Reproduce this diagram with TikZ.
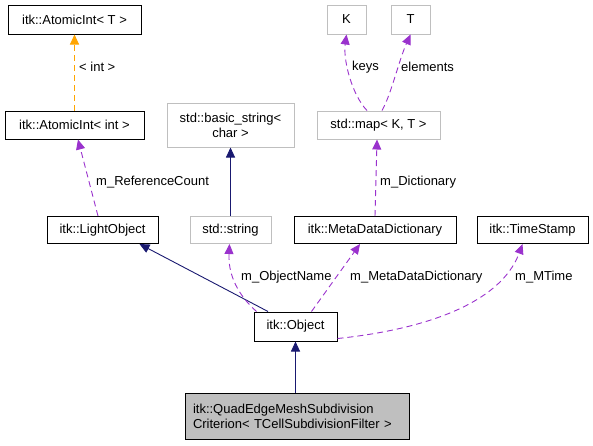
\documentclass[tikz,border=0pt]{standalone}
\usepackage{fontspec}
\setmainfont{Liberation Sans}
\usetikzlibrary{arrows.meta}
\definecolor{navy}{HTML}{191970}
\definecolor{dpurple}{HTML}{9A32CD}
\definecolor{dorange}{HTML}{FFA500}
\definecolor{boxgray}{HTML}{BFBFBF}
\tikzset{
  box/.style={draw=black, line width=1pt, fill=white, inner sep=0pt, minimum height=27pt, font=\fontsize{13}{15}\selectfont},
  gbox/.style={box, draw=boxgray},
  inh/.style={draw=navy, line width=0.9pt, -{Triangle[length=10pt,width=9pt]}},
  use/.style={draw=dpurple, line width=0.9pt, dash pattern=on 6pt off 4pt, -{Triangle[length=10pt,width=9pt]}},
  tmpl/.style={draw=dorange, line width=0.9pt, dash pattern=on 6pt off 4pt, -{Triangle[length=10pt,width=9pt]}},
  lbl/.style={anchor=west, inner sep=0pt, font=\fontsize{13}{15}\selectfont}
}
\begin{document}
\begin{tikzpicture}[x=1pt,y=-1pt]
\useasboundingbox (0,0) rectangle (593,445);
% nodes
\node[box, minimum width=133pt, minimum height=29pt] (atiT) at (74.5,19.5) {itk::AtomicInt< T >};
\node[box, minimum width=139pt, minimum height=28pt] (atiint) at (74.5,125) {itk::AtomicInt< int >};
\node[gbox, minimum width=127pt, minimum height=44pt, align=center] (bstr) at (230.5,125) {std::basic\_string<\\char >};
\node[box, minimum width=111pt] (light) at (102.5,230) {itk::LightObject};
\node[gbox, minimum width=81pt] (str) at (230.5,230) {std::string};
\node[box, minimum width=162pt] (mdd) at (375,230) {itk::MetaDataDictionary};
\node[box, minimum width=111pt] (ts) at (532.5,230) {itk::TimeStamp};
\node[gbox, minimum width=39pt, minimum height=29pt] (K) at (346.5,19.5) {K};
\node[gbox, minimum width=39pt, minimum height=29pt] (T) at (410.5,19.5) {T};
\node[gbox, minimum width=123pt, minimum height=28pt] (map) at (378.5,125) {std::map< K, T >};
\node[box, minimum width=83pt, minimum height=29pt] (obj) at (295.5,326.5) {itk::Object};
\node[box, fill=boxgray, minimum width=224pt, minimum height=46pt, align=left, text width=208pt] (quad) at (297,416) {itk::QuadEdgeMeshSubdivision\\Criterion< TCellSubdivisionFilter >};
% edges
\draw[tmpl] (atiint.north) -- (atiT.south);
\node[lbl] (l1) at (79,67) {< int >};
\draw[use] ([xshift=-4.5pt]light.north) -- ([xshift=3.5pt]atiint.south);
\node[lbl] (l2) at (96,182) {m\_ReferenceCount};
\draw[inh] (str.north) -- (bstr.south);
\draw[use] ([xshift=-11.5pt]map.north) .. controls (352,95) and (343,60) .. (K.south);
\node[lbl] (l3) at (352,67) {keys};
\draw[use] ([xshift=3.5pt]map.north) .. controls (391,95) and (399,60) .. (T.south);
\node[lbl] (l4) at (401,67) {elements};
\draw[use] (mdd.north) -- ([xshift=-1.5pt]map.south);
\node[lbl] (l5) at (380,182) {m\_Dictionary};
\draw[inh] ([xshift=-27.5pt]obj.north) -- ([xshift=37pt]light.south);
\draw[use] ([xshift=-39pt]obj.north) .. controls (238,295) and (228,275) .. ([xshift=-1pt]str.south);
\node[lbl] (l6) at (241,277) {m\_ObjectName};
\draw[use] ([xshift=16pt]obj.north) -- ([xshift=-15pt]mdd.south);
\node[lbl] (l7) at (350,277) {m\_MetaDataDictionary};
\draw[use] ([yshift=-12pt]obj.east) .. controls (420,330) and (500,305) .. ([xshift=-10pt]ts.south);
\node[lbl] (l8) at (515,277) {m\_MTime};
\draw[inh] (quad.north -| obj.south) -- (obj.south);
\end{tikzpicture}
\end{document}
